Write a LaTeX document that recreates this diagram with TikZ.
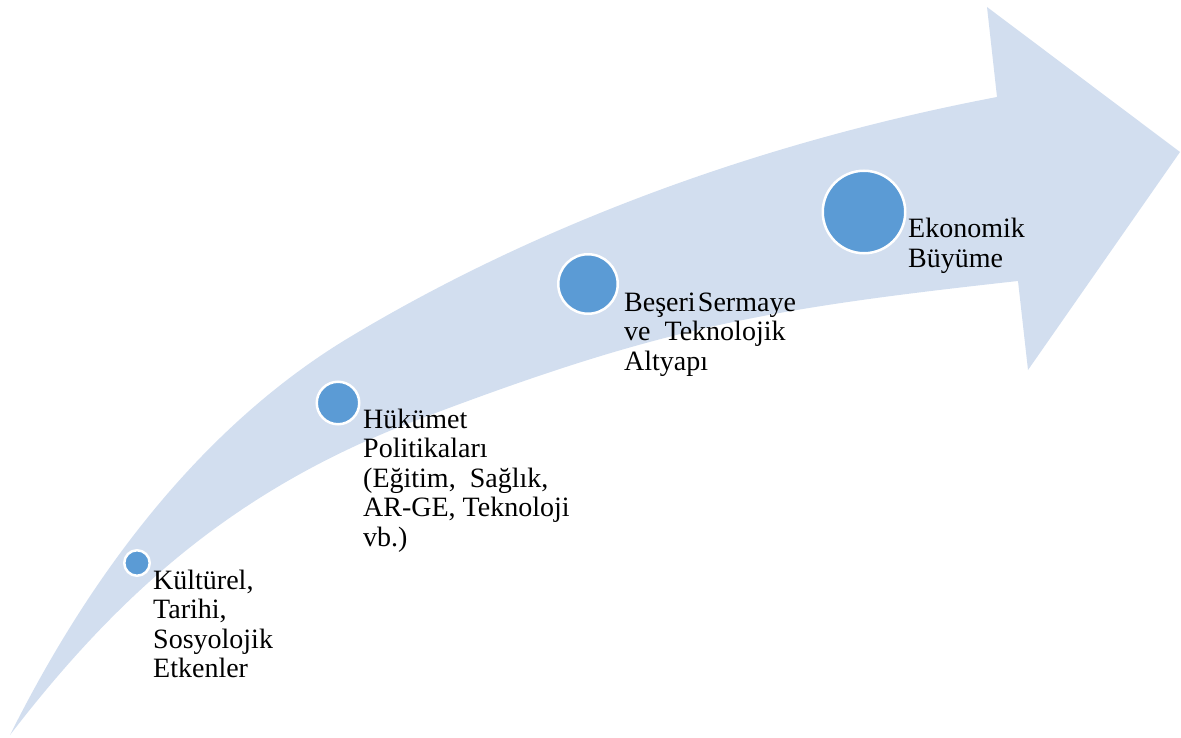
\documentclass[tikz,border=0pt]{standalone}
\usepackage{fontspec}
\setmainfont{Liberation Serif}
\newfontfamily\lblfont{Liberation Serif}
\definecolor{bandcol}{HTML}{D2DEEF}
\definecolor{dotcol}{HTML}{5B9BD5}
\begin{document}
\begin{tikzpicture}[x=1pt,y=-1pt,
  band/.style={fill=bandcol},
  dot/.style={circle,fill=dotcol,draw=white,line width=2.5pt,inner sep=0pt},
  lbl/.style={anchor=base west,align=left,inner sep=0pt,font=\lblfont\fontsize{28}{29.5}\selectfont}]
\useasboundingbox (0,0) rectangle (1181,738);
\fill[band] (10,735)
  .. controls (110,535) and (230,409) .. (350,337)
  .. controls (550,217) and (777,138.8) .. (997,97)
  -- (987,7) -- (1180,152) -- (1028,370) -- (1018,281)
  .. controls (758,309.6) and (657,328.8) .. (417,420)
  .. controls (237,488.4) and (120,592) .. (10,735) -- cycle;
\node[dot,minimum size=25.5pt] (d1) at (137,563) {};
\node[dot,minimum size=42.5pt] (d2) at (338,403) {};
\node[dot,minimum size=59.5pt] (d3) at (588,284) {};
\node[dot,minimum size=82.5pt] (d4) at (864,212) {};
\node[lbl] (t1) at (153,677.5) {Kültürel,\\Tarihi,\\Sosyolojik\\Etkenler};
\node[lbl] (t2) at (363,546) {Hükümet\\Politikaları\\(Eğitim,\ \ Sağlık,\\AR-GE, Teknoloji\\vb.)};
\node[lbl] (t3) at (624,370) {Beşeri\hspace{0.08em}Sermaye\\ve\ \ Teknolojik\\Altyapı};
\node[lbl] (t4) at (908,267.5) {Ekonomik\\Büyüme};
\end{tikzpicture}
\end{document}
